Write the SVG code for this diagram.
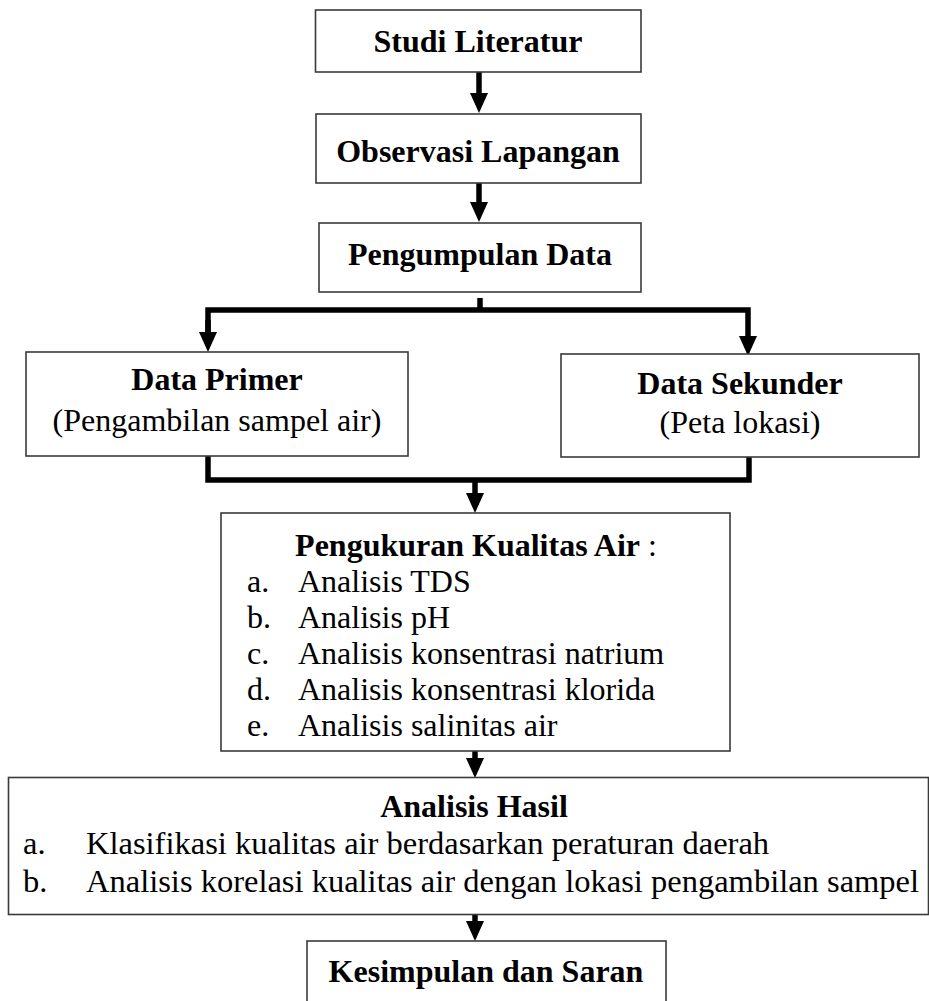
<svg xmlns="http://www.w3.org/2000/svg" width="929" height="1001" viewBox="0 0 929 1001">
<style>
.box{fill:#fff;stroke:#3a3a3a;stroke-width:1.6}
.t{font-family:"Liberation Serif","Times New Roman",serif;font-size:32px;fill:#000}
.s{font-size:32.5px}
.b{font-weight:bold}
.c{text-anchor:middle}
.con{fill:none;stroke:#000;stroke-width:5.5;stroke-linejoin:miter}
</style>
<defs>
<marker id="ah" markerUnits="userSpaceOnUse" markerWidth="20" markerHeight="18" refX="0" refY="9" orient="auto" overflow="visible">
<path d="M0,0 L20,9 L0,18 Z" fill="#000"/>
</marker>
</defs>
<rect width="929" height="1001" fill="#fff"/>
<g id="connectors">
<path class="con" d="M479,72 V93" marker-end="url(#ah)"/>
<path class="con" d="M479,183 V202" marker-end="url(#ah)"/>
<path class="con" d="M480,298 V310"/>
<path class="con" d="M208,332 V310 H748 V336" marker-end="url(#ah)"/>
<path class="con" d="M208,320 V332" marker-end="url(#ah)"/>
<path class="con" d="M208,456 V480 H749 V457"/>
<path class="con" d="M475,480 V493" marker-end="url(#ah)"/>
<path class="con" d="M475,751 V758" marker-end="url(#ah)"/>
<path class="con" d="M475,915 V921" marker-end="url(#ah)"/>
</g>
<g id="studi">
<rect class="box" x="315.5" y="10" width="325.5" height="62"/>
<text class="t b c" x="478" y="52">Studi Literatur</text>
</g>
<g id="observasi">
<rect class="box" x="316" y="114" width="325" height="69"/>
<text class="t b c" x="478" y="162">Observasi Lapangan</text>
</g>
<g id="pengumpulan">
<rect class="box" x="319" y="223" width="322" height="69"/>
<text class="t b c" x="480" y="265">Pengumpulan Data</text>
</g>
<g id="primer">
<rect class="box" x="26" y="352" width="382" height="104"/>
<text class="t b c" x="217" y="390">Data Primer</text>
<text class="t c" x="217" y="431">(Pengambilan sampel air)</text>
</g>
<g id="sekunder">
<rect class="box" x="561" y="354" width="358" height="103"/>
<text class="t b c" x="740" y="394">Data Sekunder</text>
<text class="t c" x="740" y="433">(Peta lokasi)</text>
</g>
<g id="pengukuran">
<rect class="box" x="221" y="513" width="509" height="238"/>
<text class="t c" x="476" y="556"><tspan font-weight="bold">Pengukuran Kualitas Air</tspan> :</text>
<text class="t" x="247" y="592">a.</text><text class="t" x="298" y="592">Analisis TDS</text>
<text class="t" x="247" y="628">b.</text><text class="t" x="298" y="628">Analisis pH</text>
<text class="t" x="247" y="664">c.</text><text class="t" x="298" y="664">Analisis konsentrasi natrium</text>
<text class="t" x="247" y="700">d.</text><text class="t" x="298" y="700">Analisis konsentrasi klorida</text>
<text class="t" x="247" y="736">e.</text><text class="t" x="298" y="736">Analisis salinitas air</text>
</g>
<g id="analisis">
<rect class="box" x="8.5" y="777.5" width="920" height="137"/>
<text class="t b c" x="474" y="817">Analisis Hasil</text>
<text class="t s" x="23" y="854">a.</text><text class="t s" x="86" y="854">Klasifikasi kualitas air berdasarkan peraturan daerah</text>
<text class="t s" x="23" y="892">b.</text><text class="t s" x="86" y="892">Analisis korelasi kualitas air dengan lokasi pengambilan sampel</text>
</g>
<g id="kesimpulan">
<rect class="box" x="307" y="941" width="359" height="75"/>
<text class="t b c" x="486" y="982">Kesimpulan dan Saran</text>
</g>
</svg>
